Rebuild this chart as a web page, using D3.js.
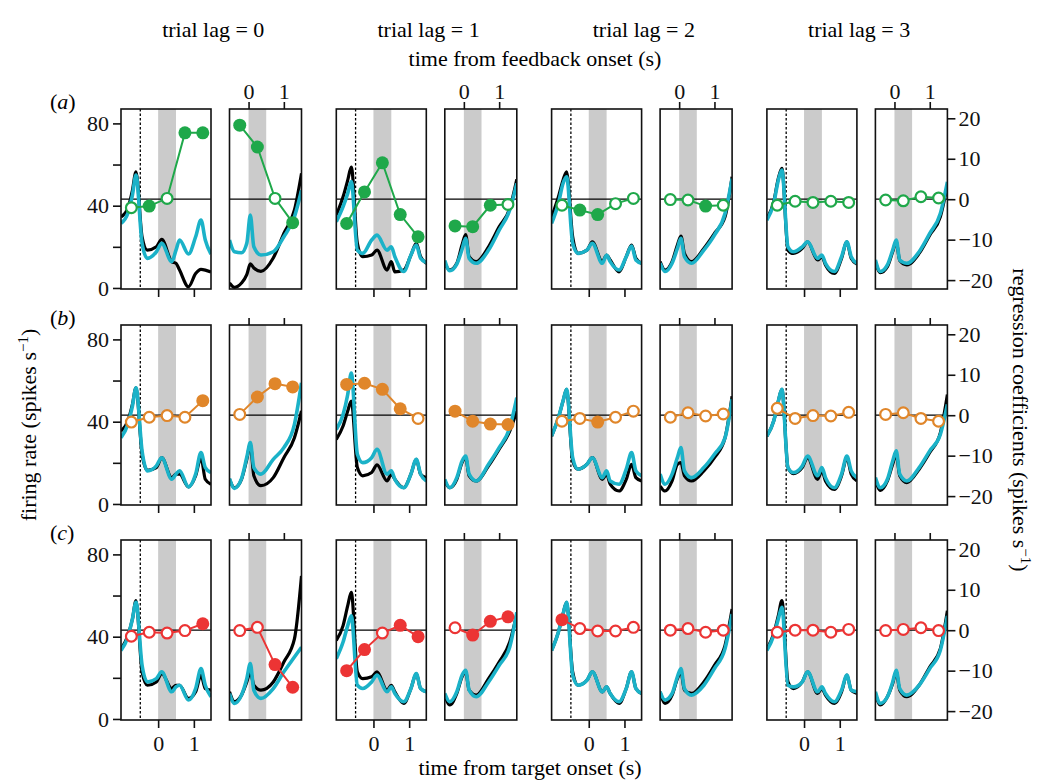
<!DOCTYPE html>
<html>
<head>
<meta charset="utf-8">
<script src="https://cdn.jsdelivr.net/npm/d3@7"></script>
<style>
  body { margin: 0; background: #fff; }
  text { font-family: "Liberation Serif", "DejaVu Serif", serif; }
</style>
</head>
<body>
<div id="chart"></div>
<script>
// ---- data ----
var lags = [0, 1, 2, 3];
var rowLetters = ["a", "b", "c"];
var rowColors = ["#1fa84a", "#e0862a", "#ec3434"];

// sample times (s) of the firing-rate curves
var targetTimes = [-1.04, -0.85, -0.72, -0.62, -0.45, -0.3, -0.05, 0.1, 0.38, 0.5, 0.6, 0.85, 1.05, 1.2, 1.32, 1.48];
var feedbackTimes = [-0.54, -0.4, -0.2, -0.05, 0.05, 0.15, 0.35, 0.7, 1.0, 1.3, 1.5];

// regression bins (s)
var coefTargetTimes = [-0.75, -0.25, 0.25, 0.75, 1.25];
var coefFeedbackTimes = [-0.25, 0.25, 0.75, 1.25];

// firing rate (spikes/s), one array per lag; black = all trials, cyan = model
var rateTargetBlack = [
  [ // row a
    [34.6, 38.6, 47.5, 56.5, 24.9, 18.4, 20, 23.6, 12.8, 12, 8.7, 0.6, 7, 9, 8.7, 7.8],
    [35.4, 44.3, 52.4, 58.8, 21.7, 15.2, 16, 18.4, 8.7, 12.8, 7.8, 8.7, 16, 21.7, 15.2, 12],
    [34.6, 44.3, 52.4, 56.5, 24.9, 16.8, 18.4, 22.4, 12.8, 16, 13.6, 7.8, 15.2, 20.9, 14.4, 12],
    [33.8, 41.9, 53.2, 58.1, 18.4, 16.8, 19.2, 22.4, 13.6, 15.2, 11.2, 7.1, 14.4, 22.4, 14.4, 11.6]
  ],
  [ // row b
    [35.4, 40.3, 48.4, 56.5, 24.2, 16.4, 17.7, 22.5, 12.8, 14.5, 14.5, 8.3, 13.7, 22.5, 12, 9.6],
    [31.4, 37.9, 45.2, 50, 17.7, 13.7, 15.3, 19, 11.2, 14.5, 12, 7.9, 14.5, 21.7, 14.5, 12.8],
    [33, 41.9, 50, 55.7, 20.9, 16.9, 19.3, 22.5, 12, 14.5, 9.6, 6.3, 12, 19.3, 12.8, 11.2],
    [33, 40.3, 50, 55.7, 17.7, 14.8, 17.7, 22.5, 12, 16.1, 11.2, 7.1, 13.7, 22.5, 14.5, 11.2]
  ],
  [ // row c
    [34.1, 40.5, 48.6, 57.5, 22.9, 16.4, 18, 22.1, 14.8, 16.4, 16.4, 10, 13.2, 21.3, 14.8, 14],
    [38.2, 45.4, 55.1, 61.5, 22.9, 19.6, 20.5, 22.9, 14, 16.4, 13.2, 7.6, 14.8, 22.1, 14.8, 13.2],
    [33.3, 42.2, 51, 56.7, 22.9, 16.4, 18.8, 22.9, 13.2, 15.6, 12.4, 7.6, 14.8, 22.9, 14.8, 12.4],
    [34.1, 41.4, 50.2, 57.5, 18, 14.8, 18, 22.9, 12.4, 14.8, 11.6, 7.6, 13.2, 21.3, 14, 12.4]
  ]
];
var rateTargetCyan = [
  [
    [31.4, 36.2, 45.1, 54.9, 21.7, 14.4, 17.6, 21.7, 12.8, 18.4, 23.3, 16.5, 24.9, 33, 23.3, 16.5],
    [32.2, 39.5, 46, 51.7, 18.4, 16.8, 23.3, 25.7, 18.4, 20, 15.2, 8, 16, 20.9, 14.4, 12.3],
    [31.4, 41.1, 50.8, 54.1, 21.7, 16.8, 18.4, 21.7, 12, 16, 12.8, 8.7, 15.2, 20.4, 13.6, 12],
    [33, 41.1, 52.4, 57.3, 20, 17.6, 20, 22.4, 14.4, 16, 12, 8, 15.2, 22.4, 15.2, 12]
  ],
  [
    [32.2, 38.7, 47.6, 56.5, 25.8, 16.1, 18.5, 22.5, 12, 14.5, 16.1, 8.3, 14.5, 25, 17.7, 15.3],
    [36.2, 43.5, 53.2, 63.7, 24.2, 20.1, 22.5, 26.6, 14.5, 16.1, 12, 7.9, 14.5, 21.7, 14.5, 11.2],
    [33, 41.9, 50, 55.7, 22.5, 16.9, 19.3, 22.5, 12.8, 16.1, 11.2, 9.6, 16.9, 25, 16.1, 13.7],
    [33, 40.3, 50, 55.7, 17.7, 15.3, 18.5, 23.3, 13.7, 17.7, 12.8, 7.9, 14.5, 23.3, 16.1, 12.8]
  ],
  [
    [33.3, 39.7, 48.6, 56.7, 26.1, 18, 19.6, 22.9, 13.2, 15.6, 16.4, 9.2, 14.8, 24.5, 16.4, 10.8],
    [29.3, 37.4, 45.4, 50.2, 16.4, 14.8, 18, 21.3, 13.2, 15.6, 12.4, 8.4, 14.8, 22.1, 14.8, 13.2],
    [33.3, 42.2, 51, 56.7, 21.3, 16.4, 18.8, 22.9, 13.2, 15.6, 12.4, 8.4, 14.8, 22.9, 14.8, 12.4],
    [33.3, 40.5, 48.6, 54.3, 16.4, 15.6, 18, 22.9, 13.2, 15.6, 12.4, 8.4, 14, 21.3, 14, 13.2]
  ]
];
var rateFeedbackBlack = [
  [
    [2.4, 0.3, 2.4, 6.5, 11.7, 9.7, 8.1, 14.6, 26.5, 37.9, 55.7],
    [12, 8.7, 12, 21, 26, 15.2, 12.8, 20, 29.7, 38.6, 52.8],
    [12.8, 8.7, 12.8, 20.9, 25.2, 16.8, 12.8, 19.2, 26.5, 34.6, 54.1],
    [12.8, 7.4, 10.3, 17.6, 22.4, 13.3, 11.2, 16.8, 25.7, 34.6, 50]
  ],
  [
    [12, 7.9, 12, 21.7, 29, 13.7, 8.9, 12.8, 22.5, 32.2, 45.2],
    [11.2, 7.9, 12, 20.1, 22.5, 13.7, 11.2, 18.5, 26.6, 35.4, 45.2],
    [8.7, 6.3, 11.2, 19.3, 20.1, 13.7, 11.2, 16.1, 22.5, 32.2, 52.4],
    [12, 6.6, 11.2, 19.3, 24.2, 13.7, 10.4, 16.9, 25, 34.6, 53.2]
  ],
  [
    [13.2, 8.4, 11.6, 18, 22.9, 16.4, 14, 18, 27.7, 38.9, 69.5],
    [11.6, 6.8, 12.4, 20.5, 22.9, 14, 11.6, 19.6, 27.7, 37.4, 51],
    [13.2, 7.6, 11.6, 19.6, 22.9, 14, 12.4, 18, 26.1, 35.8, 53.4],
    [12.4, 6.8, 10.8, 17.2, 22.9, 14, 10.8, 16.4, 25.3, 34.2, 52.6]
  ]
];
var rateFeedbackCyan = [
  [
    [23.3, 17.6, 17.1, 21.7, 35.4, 20, 16, 17.6, 24.9, 34.6, 47.5],
    [13.3, 8.4, 11.6, 18.8, 24.1, 14.4, 12, 18.4, 28.1, 37.9, 50.8],
    [12, 8, 12, 19.2, 24.1, 15.2, 12, 18.4, 25.7, 36.2, 53.2],
    [13.6, 8, 11.2, 18.4, 23.3, 13.6, 12, 17.6, 26.5, 36.2, 51.6]
  ],
  [
    [12.3, 7.6, 12.3, 22.7, 29.8, 17.7, 14.5, 21.7, 27.4, 38.7, 58.9],
    [12, 7.9, 12.8, 20.9, 23.3, 14.5, 11.2, 19.3, 27.4, 37.1, 51.7],
    [14.5, 9.6, 14.5, 22.5, 27.4, 16.1, 12.8, 17.7, 24.2, 32.2, 51],
    [12.8, 7.9, 12, 20.9, 25.8, 14.5, 11.2, 17.7, 25.8, 33.8, 48.4]
  ],
  [
    [12.4, 7.6, 11.6, 19.6, 26.9, 14, 10, 14.8, 22.9, 30.1, 34.9],
    [12.4, 8.4, 13.2, 21.3, 23.7, 14, 10.8, 18, 26.1, 35, 51.9],
    [13.2, 9.2, 12.4, 20.5, 24.5, 14.8, 11.6, 16.4, 24.5, 34.2, 51],
    [13.2, 7.6, 10.8, 18, 23.7, 14.8, 11.6, 16.4, 24.5, 33.4, 50.2]
  ]
];

// regression coefficients (spikes/s) and significance (1 = filled marker)
var coefTarget = [
  [[-2.1, -1.7, 0.2, 16.4, 16.4], [-6.0, 1.8, 9.0, -3.8, -9.3], [-1.5, -2.7, -3.8, -1.1, 0.2], [-1.5, -0.5, -0.8, -0.5, -0.8]],
  [[-1.7, -0.5, -0.1, -0.5, 3.6], [7.6, 7.9, 6.4, 1.6, -0.8], [-1.5, -0.8, -1.7, -0.5, 1.0], [1.7, -0.8, -0.1, -0.2, 0.7]],
  [[-1.5, -0.5, -0.7, -0.1, 1.6], [-10, -4.8, -0.7, 1.2, -1.6], [2.6, 0.4, -0.2, -0.2, 0.7], [-0.5, 0, 0, -0.5, 0.2]]
];
var sigTarget = [
  [[0, 1, 0, 1, 1], [1, 1, 1, 1, 1], [0, 1, 1, 0, 0], [0, 0, 0, 0, 0]],
  [[0, 0, 0, 0, 1], [1, 1, 1, 1, 0], [0, 0, 1, 0, 0], [0, 0, 0, 0, 0]],
  [[0, 0, 0, 0, 1], [1, 1, 0, 1, 1], [1, 0, 0, 0, 0], [0, 0, 0, 0, 0]]
];
var coefFeedback = [
  [[18.3, 12.9, 0.2, -5.8], [-6.6, -6.8, -1.5, -1.3], [-0.1, -0.2, -1.7, -1.5], [-0.2, -0.4, 0.6, 0.3]],
  [[0.2, 4.5, 7.8, 7.0], [1.0, -1.5, -2.2, -2.3], [-0.5, 0.6, -0.2, 0.3], [0.2, 0.6, -0.8, -1.5]],
  [[-0.1, 0.7, -8.5, -14.1], [0.6, -1.2, 2.2, 3.3], [0, 0.4, -0.5, 0], [-0.1, 0.2, 0.6, -0.1]]
];
var sigFeedback = [
  [[1, 1, 0, 1], [1, 1, 1, 0], [0, 0, 1, 0], [0, 0, 0, 0]],
  [[0, 1, 1, 1], [1, 1, 1, 1], [0, 0, 0, 0], [0, 0, 0, 0]],
  [[0, 0, 1, 1], [0, 1, 1, 1], [0, 0, 0, 0], [0, 0, 0, 0]]
];

var rateTicks = [0, 20, 40, 60, 80];
var coefTicks = [-20, -10, 0, 10, 20];
var timeTicks = [0, 1];
var shadeBand = [0, 0.5];
var dottedAt = -0.5;

// ---- layout ----
var W = 1038, H = 782;
var left0 = 121, pairStep = 215.3, tW = 90, fW = 72, gap = 18.5;
var rowTops = [109, 325, 540], pH = 180;
var cyan = "#1bb2c8";

var svg = d3.select("#chart").append("svg")
    .attr("width", W).attr("height", H);

var xT = d3.scaleLinear().domain([-1.04, 1.48]).range([0, tW]);
var xF = d3.scaleLinear().domain([-0.54, 1.5]).range([0, fW]);
var yR = d3.scaleLinear().domain([-0.5, 87]).range([pH, 0]);
var yC = d3.scaleLinear().domain([-22.2, 22.3]).range([pH, 0]);

var fs = 22;
var clipId = 0;

function drawPanel(g, x, w, times, black, cyanVals, cTimes, coefs, sig, color, isTarget) {
  var id = "clip" + (clipId++);
  g.append("clipPath").attr("id", id).append("rect")
      .attr("width", w).attr("height", pH);
  var inner = g.append("g").attr("clip-path", "url(#" + id + ")");

  inner.append("rect")
      .attr("x", x(shadeBand[0])).attr("width", x(shadeBand[1]) - x(shadeBand[0]))
      .attr("y", 0).attr("height", pH)
      .attr("fill", "#cbcbcb");

  if (isTarget) {
    inner.append("line")
        .attr("x1", x(dottedAt)).attr("x2", x(dottedAt))
        .attr("y1", 0).attr("y2", pH)
        .attr("stroke", "#000").attr("stroke-width", 1.3)
        .attr("stroke-dasharray", "2.5,2");
  }

  inner.append("line")
      .attr("x1", 0).attr("x2", w)
      .attr("y1", yC(0)).attr("y2", yC(0))
      .attr("stroke", "#000").attr("stroke-width", 1.2);

  var line = d3.line()
      .x(function(d) { return x(d[0]); })
      .y(function(d) { return yR(d[1]); })
      .curve(d3.curveMonotoneX);

  inner.append("path")
      .attr("d", line(d3.zip(times, black)))
      .attr("fill", "none").attr("stroke", "#000").attr("stroke-width", 3.2);
  inner.append("path")
      .attr("d", line(d3.zip(times, cyanVals)))
      .attr("fill", "none").attr("stroke", cyan).attr("stroke-width", 3.6);

  var pts = d3.zip(cTimes, coefs, sig);
  g.append("path")
      .attr("d", d3.line().x(function(d) { return x(d[0]); }).y(function(d) { return yC(d[1]); })(pts))
      .attr("fill", "none").attr("stroke", color).attr("stroke-width", 2);
  g.selectAll("circle.pt").data(pts).enter().append("circle")
      .attr("class", "pt")
      .attr("cx", function(d) { return x(d[0]); })
      .attr("cy", function(d) { return yC(d[1]); })
      .attr("r", function(d) { return d[2] ? 6.5 : 5.4; })
      .attr("fill", function(d) { return d[2] ? color : "#fff"; })
      .attr("stroke", color)
      .attr("stroke-width", function(d) { return d[2] ? 0 : 2.2; });

  g.append("rect")
      .attr("width", w).attr("height", pH)
      .attr("fill", "none").attr("stroke", "#111").attr("stroke-width", 1.6);
}

function styleAxis(sel) {
  sel.select(".domain").remove();
  sel.selectAll(".tick line").attr("stroke", "#111").attr("stroke-width", 1.6);
  sel.selectAll(".tick text").attr("font-size", fs).attr("fill", "#111")
      .style("font-family", '"Liberation Serif", serif');
}

rowTops.forEach(function(top, r) {
  lags.forEach(function(lag, k) {
    var lx = left0 + k * pairStep;
    var gT = svg.append("g").attr("transform", "translate(" + lx + "," + top + ")");
    drawPanel(gT, xT, tW, targetTimes, rateTargetBlack[r][k], rateTargetCyan[r][k],
        coefTargetTimes, coefTarget[r][k], sigTarget[r][k], rowColors[r], true);

    gT.append("g").attr("transform", "translate(0," + pH + ")")
        .call(d3.axisBottom(xT).tickValues(timeTicks).tickSize(8).tickPadding(7)
            .tickFormat(r === 2 ? d3.format("d") : function() { return ""; }))
        .call(styleAxis);

    if (k === 0) {
      gT.append("g")
          .call(d3.axisLeft(yR).tickValues(rateTicks).tickSize(8).tickPadding(4)
              .tickFormat(function(d) { return d % 40 === 0 ? d : ""; }))
          .call(styleAxis);
    }

    var fx = lx + tW + gap;
    var gF = svg.append("g").attr("transform", "translate(" + fx + "," + top + ")");
    drawPanel(gF, xF, fW, feedbackTimes, rateFeedbackBlack[r][k], rateFeedbackCyan[r][k],
        coefFeedbackTimes, coefFeedback[r][k], sigFeedback[r][k], rowColors[r], false);

    gF.append("g")
        .call(d3.axisTop(xF).tickValues(timeTicks).tickSize(7).tickPadding(3)
            .tickFormat(r === 0 ? d3.format("d") : function() { return ""; }))
        .call(styleAxis);

    if (k === 3) {
      gF.append("g").attr("transform", "translate(" + fW + ",0)")
          .call(d3.axisRight(yC).tickValues(coefTicks).tickSize(8).tickPadding(3))
          .call(styleAxis);
    }

    if (r === 0) {
      svg.append("text")
          .attr("x", lx + (tW + gap + fW) / 2 + 2).attr("y", 37)
          .attr("text-anchor", "middle").attr("font-size", fs)
          .text("trial lag = " + lag);
    }
  });

  var lab = svg.append("text").attr("x", 50).attr("y", top + 0).attr("font-size", fs);
  lab.append("tspan").text("(");
  lab.append("tspan").attr("font-style", "italic").text(rowLetters[r]);
  lab.append("tspan").text(")");
});

svg.append("text").attr("x", 535).attr("y", 66)
    .attr("text-anchor", "middle").attr("font-size", fs)
    .text("time from feedback onset (s)");
svg.append("text").attr("x", 530).attr("y", 775)
    .attr("text-anchor", "middle").attr("font-size", fs)
    .text("time from target onset (s)");

var yl = svg.append("text")
    .attr("transform", "translate(36,425) rotate(-90)")
    .attr("text-anchor", "middle").attr("font-size", fs);
yl.append("tspan").text("firing rate (spikes s");
yl.append("tspan").attr("dy", -8).attr("font-size", 15).text("\u22121");
yl.append("tspan").attr("dy", 8).text(")");

var yr = svg.append("text")
    .attr("transform", "translate(1013,420) rotate(90)")
    .attr("text-anchor", "middle").attr("font-size", fs);
yr.append("tspan").text("regression coefficients (spikes s");
yr.append("tspan").attr("dy", -8).attr("font-size", 15).text("\u22121");
yr.append("tspan").attr("dy", 8).text(")");
</script>
</body>
</html>
